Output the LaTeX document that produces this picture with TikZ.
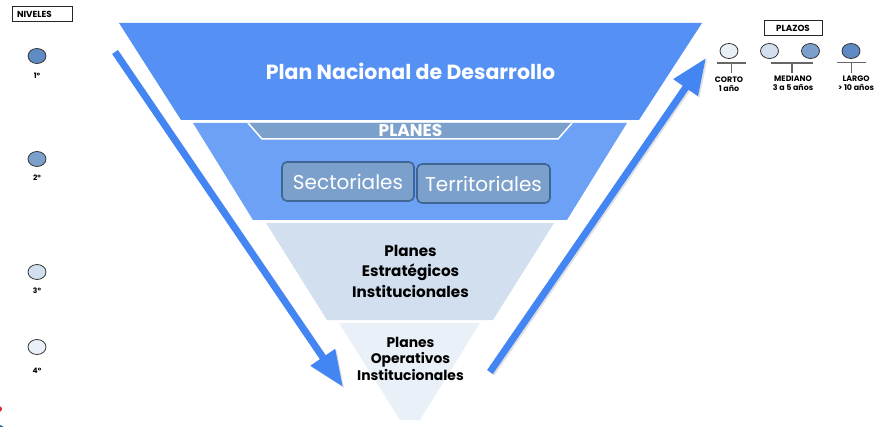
\documentclass[tikz,border=0pt]{standalone}
\usepackage{fontspec}
\setmainfont{Poppins}
\usetikzlibrary{arrows.meta,shapes.geometric}
\definecolor{bandA}{HTML}{5591F5}
\definecolor{bandB}{HTML}{6DA1F5}
\definecolor{bandC}{HTML}{D2DFEF}
\definecolor{bandD}{HTML}{EAF0F8}
\definecolor{steel}{HTML}{7CA0CC}
\definecolor{steelD}{HTML}{3F6595}
\definecolor{lvlA}{HTML}{5F8BC4}
\definecolor{arrowblue}{HTML}{4386F3}
\definecolor{barg}{HTML}{666666}
\definecolor{markred}{HTML}{E0252B}
\definecolor{markblue}{HTML}{1F5FA8}
\tikzset{
  dot/.style={ellipse,draw=#1,line width=0.8pt,minimum width=18pt,minimum height=15pt,inner sep=0pt},
  dotfill/.style={fill=#1},
  tag/.style={draw=black!85,line width=1pt,fill=white,inner sep=0pt,font=\bfseries\fontsize{8.8}{10}\selectfont},
  lvl/.style={font=\bfseries\fontsize{7.5}{8}\selectfont,inner sep=0pt},
  cap2/.style={font=\bfseries\fontsize{7.9}{9}\selectfont,align=center,inner sep=0pt},
  bar/.style={draw=barg,line width=1.5pt},
  box/.style={draw=steelD,line width=1.6pt,fill=steel,rounded corners=5pt,inner sep=0pt,text=white,font=\fontsize{20}{22}\selectfont},
  big/.style={inner sep=0pt,align=center},
  flow/.style={draw=arrowblue,line width=7pt,-{Triangle[length=36pt,width=28pt,fill=arrowblue]}},
  flowsh/.style={draw=black,opacity=.12,line width=7pt,-{Triangle[length=36pt,width=28pt]}}
}
\begin{document}
\begin{tikzpicture}[x=1pt,y=-1pt]
\useasboundingbox (0,0) rectangle (890,427);
\clip (0,0) rectangle (890,427);
% funnel
\fill[bandA] (119,23) -- (702,23) -- (639,120) -- (181,120) -- cycle;
\fill[bandB] (193,123) -- (627,123) -- (567,220) -- (253,220) -- cycle;
\fill[bandC] (266,223) -- (554,223) -- (493,320) -- (327,320) -- cycle;
\fill[bandD] (339,323) -- (480,323) -- (420,420) -- (400,420) -- cycle;
\fill[steel] (248,123) -- (572,123) -- (558,139) -- (262,139) -- cycle;
\draw[white,line width=1.5pt] (248,123) -- (262,139) -- (558,139) -- (572,123);
% arrows
\coordinate (la) at (115,52);
\coordinate (lb) at (343,387);
\coordinate (ra) at (490,372);
\coordinate (rb) at (706,58);
\draw[flowsh] ([shift={(1.5,1.5)}]la) -- ([shift={(1.5,1.5)}]lb);
\draw[flowsh] ([shift={(1.5,1.5)}]ra) -- ([shift={(1.5,1.5)}]rb);
\draw[flow] (la) -- (lb);
\draw[flow] (ra) -- (rb);
% funnel text
\node[inner sep=0pt,text=white,font=\bfseries\fontsize{20.5}{22}\selectfont] (pnd) at (410.5,71) {Plan Nacional de Desarrollo};
\node[inner sep=0pt,text=white,font=\bfseries\fontsize{17}{18}\selectfont] (planes) at (410.5,131) {PLANES};
\node[box,minimum width=132pt,minimum height=39pt] (sec) at (348,181.5) {Sectoriales};
\node[box,minimum width=133pt,minimum height=39pt] (ter) at (483.5,183.5) {Territoriales};
\node[big,font=\bfseries\fontsize{15.2}{20.5}\selectfont] (pei) at (410.5,271) {Planes\\Estratégicos\\Institucionales};
\node[big,font=\bfseries\fontsize{13.9}{16.5}\selectfont] (poi) at (410.5,358.5) {Planes\\Operativos\\Institucionales};
% niveles
\node[tag,minimum width=60pt,minimum height=15pt,text width=50pt,align=left] (niv) at (42,14) {NIVELES};
\node[dot=black!80,dotfill=lvlA] (n1) at (37,56) {};
\node[dot=black!80,dotfill=steel] (n2) at (37,159) {};
\node[dot=black!80,dotfill=bandC] (n3) at (37,272) {};
\node[dot=black!80,dotfill=bandD] (n4) at (37,347) {};
\node[lvl] (t1) at (37,76) {1°};
\node[lvl] (t2) at (37,178) {2°};
\node[lvl] (t3) at (37,291) {3°};
\node[lvl] (t4) at (37,371) {4°};
% plazos
\node[tag,minimum width=58pt,minimum height=15pt] (plz) at (793,28.5) {PLAZOS};
\node[dot=black!80,dotfill=bandD] (p1) at (729,51) {};
\node[dot=black!80,dotfill=bandC] (p2) at (769.5,51) {};
\node[dot=black!80,dotfill=steel] (p3) at (810.5,51) {};
\node[dot=black!80,dotfill=lvlA] (p4) at (851,51) {};
\coordinate (b1a) at (717,63); \coordinate (b1b) at (746,63); \coordinate (s1a) at (731.5,63); \coordinate (s1b) at (731.5,73);
\coordinate (b2a) at (771,63); \coordinate (b2b) at (813,63); \coordinate (s2a) at (792,63); \coordinate (s2b) at (792,73);
\coordinate (b3a) at (837,62.5); \coordinate (b3b) at (866,62.5); \coordinate (s3a) at (851.5,62.5); \coordinate (s3b) at (851.5,73);
\draw[bar] (b1a) -- (b1b); \draw[bar] (s1a) -- (s1b);
\draw[bar] (b2a) -- (b2b); \draw[bar] (s2a) -- (s2b);
\draw[bar] (b3a) -- (b3b); \draw[bar] (s3a) -- (s3b);
\node[cap2] (c1) at (729,84.5) {CORTO\\1 año};
\node[cap2] (c2) at (793,83.5) {MEDIANO\\3 a 5 años};
\node[cap2] (c3) at (856,83.5) {LARGO\\> 10 años};
% cut-off marks at the lower left edge
\fill[markred] (-1,409) circle (3);
\fill[markblue] (-1,431) circle (6);
\end{tikzpicture}
\end{document}
